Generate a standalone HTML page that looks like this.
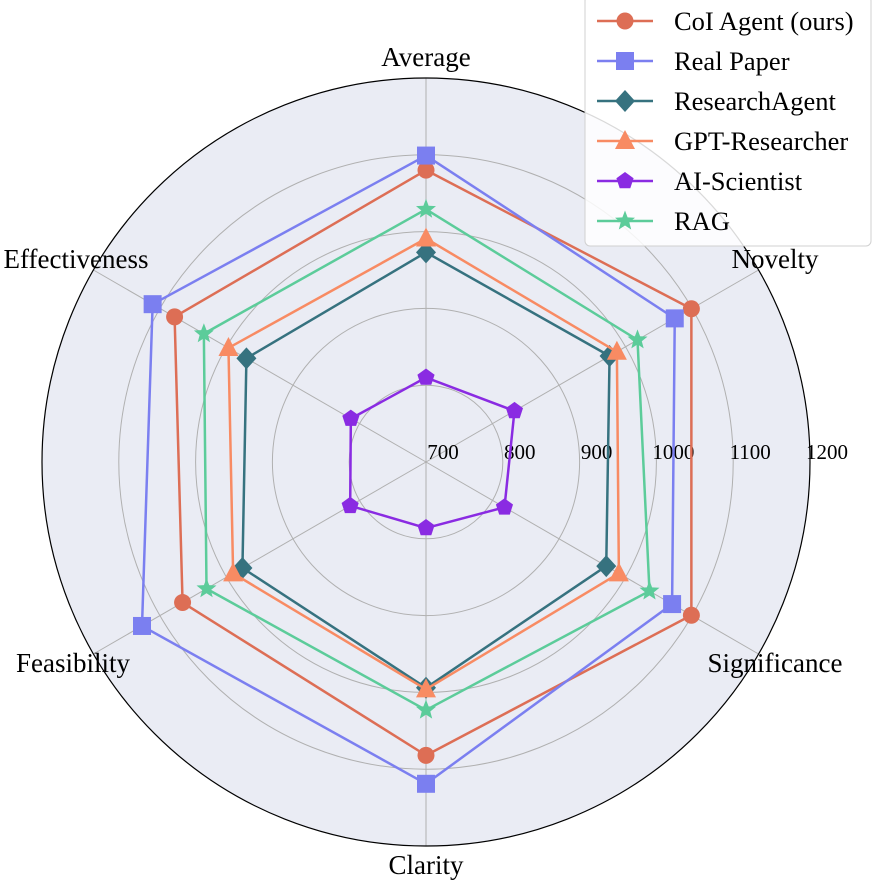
<!DOCTYPE html>
<html><head><meta charset="utf-8">
<style>
html,body{margin:0;padding:0;background:#fff;}
svg{display:block;font-family:"Liberation Serif",serif;}
</style></head>
<body>
<svg id="chart" width="872" height="880" viewBox="0 0 872 880"></svg>
<script>
const categories = ["Average","Novelty","Significance","Clarity","Feasibility","Effectiveness"];
const seriesNames = ["CoI Agent (ours)","Real Paper","ResearchAgent","GPT-Researcher","AI-Scientist","RAG"];
const coiValues = [1080,1099,1099,1082,1066,1078];
const realValues = [1099,1074,1070,1119,1127,1111];
const researchAgentValues = [973,976,971,994,976,970];
const gptValues = [991,987,990,996,990,997];
const aiScientistValues = [810,833,818,786,814,813];
const ragValues = [1029,1018,1036,1023,1030,1034];
const tickLabels = [700,800,900,1000,1100,1200];
const rMin = 700, rMax = 1200;

const colors = ["#dd6e55","#7b7ff0","#36727f","#f88b63","#8a2be2","#5ccc9a"];
const markers = ["circle","square","diamond","triangle","pentagon","star"];
const allValues = [coiValues,realValues,researchAgentValues,gptValues,aiScientistValues,ragValues];

const NS="http://www.w3.org/2000/svg";
const svg=document.getElementById("chart");
const cx=426, cy=462, R=384;
function rScale(v){return (v-rMin)/(rMax-rMin)*R;}
function angle(i){return Math.PI/2 - i*2*Math.PI/categories.length;}
function pt(i,v){const r=rScale(v),a=angle(i);return [cx+r*Math.cos(a), cy-r*Math.sin(a)];}
function mk(tag,attrs,parent){const e=document.createElementNS(NS,tag);for(const k in attrs)e.setAttribute(k,attrs[k]);(parent||svg).appendChild(e);return e;}

const bg=mk("circle",{cx:cx,cy:cy,r:R,fill:"#eaecf4",stroke:"none"});


tickLabels.forEach((t,k)=>{
  if(t===rMin||t===rMax) return;
  const c=mk("circle",{cx:cx,cy:cy,r:rScale(t),fill:"none",stroke:"#b0b0b0","stroke-width":1});
  
  
});
categories.forEach((c,i)=>{
  const [x,y]=pt(i,rMax);
  const l=mk("line",{x1:cx,y1:cy,x2:x,y2:y,stroke:"#b0b0b0","stroke-width":1});
  
  
});
const outer=mk("circle",{cx:cx,cy:cy,r:R,fill:"none",stroke:"#000","stroke-width":1.2});



tickLabels.forEach(t=>{
  const tx=mk("text",{x:cx+rScale(t)+17,y:459,"font-size":21,"text-anchor":"middle",fill:"#000"});
  tx.textContent=t;
  
  
});

const labelPos=[[426,66],[775,268],[775,672],[426,874],[73,672],[76,268]];
categories.forEach((c,i)=>{
  const tx=mk("text",{x:labelPos[i][0],y:labelPos[i][1],"font-size":27,"text-anchor":"middle",fill:"#000"});
  tx.textContent=c;
  
  
});

function marker(type,x,y,color,parent){
  let e;
  if(type==="circle") e=mk("circle",{cx:x,cy:y,r:8.5,fill:color},parent);
  else if(type==="square") e=mk("rect",{x:x-9,y:y-9,width:18,height:18,fill:color},parent);
  else if(type==="diamond") e=mk("polygon",{points:`${x},${y-11} ${x+10},${y} ${x},${y+11} ${x-10},${y}`,fill:color},parent);
  else if(type==="triangle") e=mk("polygon",{points:`${x},${y-11} ${x+10},${y+8} ${x-10},${y+8}`,fill:color},parent);
  else {
    const n=type==="pentagon"?5:10, pts=[];
    for(let k=0;k<n;k++){const a=-Math.PI/2+k*2*Math.PI/n;const rr=type==="pentagon"?9:(k%2?4.5:10.5);pts.push((x+rr*Math.cos(a)).toFixed(1)+","+(y+rr*Math.sin(a)).toFixed(1));}
    e=mk("polygon",{points:pts.join(" "),fill:color},parent);
  }
  return e;
}

allValues.forEach((vals,s)=>{
  const g=mk("g",{});
  
  
  const pts=vals.map((v,i)=>pt(i,v));
  const poly=mk("polygon",{points:pts.map(p=>p.join(",")).join(" "),fill:"none",stroke:colors[s],"stroke-width":2.5,"stroke-linejoin":"round"},g);
  
  
  pts.forEach((p,i)=>{
    const m=marker(markers[s],p[0],p[1],colors[s],g);
    
    
  });
});

const lg=mk("g",{});


mk("rect",{x:585,y:-4,width:286,height:250,rx:5,fill:"rgba(255,255,255,0.85)",stroke:"#d0d0d0","stroke-width":1},lg);
seriesNames.forEach((n,s)=>{
  const y=21+s*40;
  const e=mk("g",{},lg);
  
  
  mk("line",{x1:597,y1:y,x2:653,y2:y,stroke:colors[s],"stroke-width":2.5},e);
  marker(markers[s],625,y,colors[s],e);
  const t=mk("text",{x:674,y:y+9,"font-size":26.5,fill:"#000"},e);
  t.textContent=n;
});
</script>
</body></html>
